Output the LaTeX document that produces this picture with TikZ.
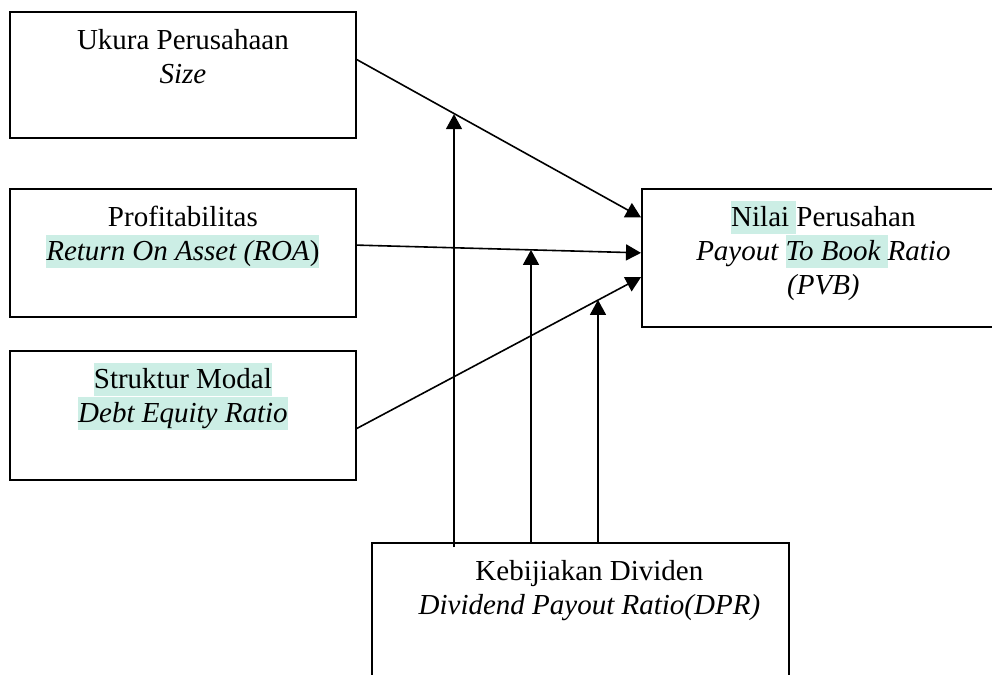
\documentclass[tikz,border=0pt]{standalone}
\usepackage{fontspec}
\setmainfont{Liberation Serif}
\usepackage{xcolor}
\usetikzlibrary{arrows.meta,calc}

\definecolor{hlteal}{RGB}{204,238,229}
\setlength{\fboxsep}{0pt}
\newcommand{\tstrut}{\rule[-3.5pt]{0pt}{16.5pt}}
\newcommand{\hl}[1]{\colorbox{hlteal}{\tstrut#1}}
\newcommand{\boxtext}[3]{\parbox[c][#2][t]{#1}{\centering
  \fontsize{14.5}{17}\selectfont\vspace*{6pt}#3}}

\begin{document}
\begin{tikzpicture}[x=0.5pt,y=-0.5pt,>={Triangle[length=7.5pt,width=8pt]},
  box/.style={draw,line width=0.9pt,inner sep=0pt,anchor=north west},
  link/.style={->,line width=0.8pt}]
 \useasboundingbox (0,0) rectangle (992,675);

 \node[box] (size) at (9,11) {\boxtext{173pt}{63pt}{%
   \tstrut Ukura Perusahaan\\ \tstrut\textit{Size}}};
 \node[box] (roa) at (9,188) {\boxtext{173pt}{64pt}{%
   \tstrut Profitabilitas\\ \hl{\textit{Return On Asset (ROA})}}};
 \node[box] (der) at (9,350) {\boxtext{173pt}{64.5pt}{%
   \hl{Struktur Modal}\\ \hl{\textit{Debt Equity Ratio}}}};
 \node[box] (pvb) at (641,188) {\boxtext{181.5pt}{69pt}{%
   \hl{Nilai\ }Perusahan\\ \tstrut\textit{Payout \hl{To Book\ }Ratio}\\
   \tstrut\textit{(PVB)}}};
 \node[box] (dpr) at (371,542) {\boxtext{208.5pt}{75pt}{%
   \leftskip=9pt plus 1fil
   \tstrut Kebijiakan Dividen\\ \tstrut\textit{Dividend Payout Ratio(DPR)}}};

 % ends of the connectors
 \coordinate (s1) at ($(size.north east)!.38!(size.south east)$);
 \coordinate (s2) at ($(roa.north east)!.44!(roa.south east)$);
 \coordinate (s3) at ($(der.north east)!.6!(der.south east)$);
 \coordinate (p1) at ($(pvb.north west)!.21!(pvb.south west)$);
 \coordinate (p2) at ($(pvb.north west)!.464!(pvb.south west)$);
 \coordinate (p3) at ($(pvb.north west)!.638!(pvb.south west)$);
 \coordinate (d1) at ($(dpr.north west)+(83,5)$);
 \coordinate (d2) at ($(dpr.north west)+(160,0)$);
 \coordinate (d3) at ($(dpr.north west)+(227,0)$);
 \path (s1) -- (p1) coordinate[pos=.346] (m1);
 \path (s2) -- (p2) coordinate[pos=.615] (m2);
 \path (s3) -- (p3) coordinate[pos=.85] (m3);

 \path[link]
 (s1) edge (p1)
 (s2) edge (p2)
 (s3) edge (p3)
 (d1) edge (d1 |- m1)
 (d2) edge (d2 |- m2)
 (d3) edge (d3 |- m3);
\end{tikzpicture}
\end{document}
